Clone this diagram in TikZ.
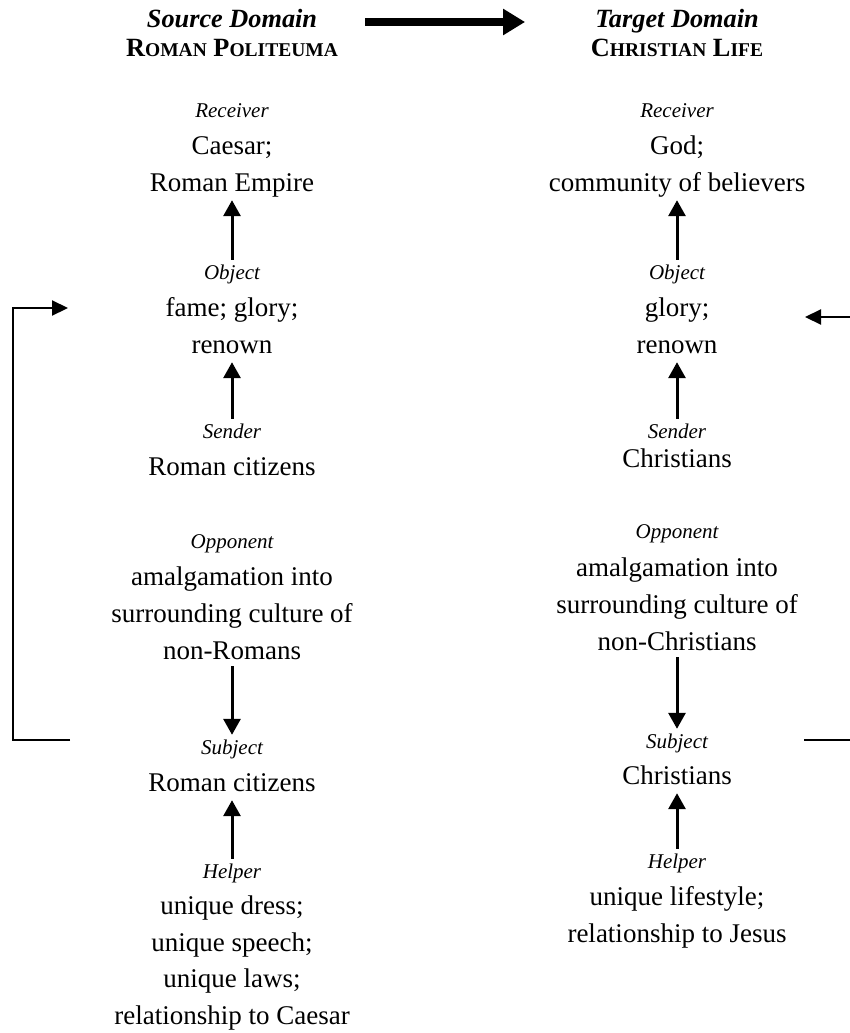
\documentclass[tikz,border=0pt]{standalone}
\usepackage{fontspec}
\setmainfont{Liberation Serif}
\usetikzlibrary{arrows.meta}

% bold text with the lower letters set smaller, as small capitals
\newcommand{\fakesc}[1]{{\fontsize{19.5}{20}\selectfont #1}}

\tikzset{
  hd/.style={font=\fontsize{26.3}{26}\selectfont\bfseries\itshape, anchor=base, inner sep=0pt, text height=18pt, text depth=6pt},
  hdsc/.style={font=\fontsize{26.3}{26}\selectfont\bfseries, anchor=base, inner sep=0pt, text height=18pt, text depth=6pt},
  lab/.style={font=\fontsize{21}{21}\selectfont\itshape, anchor=base, inner sep=0pt, text height=14pt, text depth=4.5pt},
  txt/.style={font=\fontsize{27}{27}\selectfont, anchor=base, inner sep=0pt, text height=18.5pt, text depth=6pt},
  colarrow/.style={line width=3pt, -{Triangle[length=16pt,width=17pt]}},
  fbline/.style={line width=2.2pt},
  fbarrow/.style={fbline, -{Triangle[length=16pt,width=15pt]}},
  maparrow/.style={line width=8pt, -{Triangle[length=22pt,width=25pt]}}
}

\begin{document}
\begin{tikzpicture}[x=1pt, y=-1pt]
\useasboundingbox (0,0) rectangle (850,1033);
\clip (0,0) rectangle (850,1033);

% ---------- headings ----------
\node[hd]   (srcT) at (232,28) {Source Domain};
\node[hdsc] (srcN) at (232,57) {R\fakesc{OMAN} P\fakesc{OLITEUMA}};
\node[hd]   (tgtT) at (677,28) {Target Domain};
\node[hdsc] (tgtN) at (677,57) {C\fakesc{HRISTIAN} L\fakesc{IFE}};
\draw[maparrow] ([xshift=48pt]srcT.east) -- ([xshift=-70pt]srcT.east -| tgtT.west);

% ---------- source domain column ----------
\node[lab] (lrecL) at (232,117) {Receiver};
\node[txt] (lrec1) at (232,154) {Caesar;};
\node[txt] (lrec2) at (232,191) {Roman Empire};

\node[lab] (lobjL) at (232,279) {Object};
\node[txt] (lobj1) at (232,316) {fame; glory;};
\node[txt] (lobj2) at (232,353) {renown};

\node[lab] (lsenL) at (232,438) {Sender};
\node[txt] (lsen1) at (232,475) {Roman citizens};

\node[lab] (loppL) at (232,548) {Opponent};
\node[txt] (lopp1) at (232,585) {amalgamation into};
\node[txt] (lopp2) at (232,622) {surrounding culture of};
\node[txt] (lopp3) at (232,659) {non-Romans};

\node[lab] (lsubL) at (232,754) {Subject};
\node[txt] (lsub1) at (232,791) {Roman citizens};

\node[lab] (lhelL) at (232,878) {Helper};
\node[txt] (lhel1) at (232,914.5) {unique dress;};
\node[txt] (lhel2) at (232,951) {unique speech;};
\node[txt] (lhel3) at (232,987.5) {unique laws;};
\node[txt] (lhel4) at (232,1024) {relationship to Caesar};

\draw[colarrow] ([yshift=5pt]lobjL.north) -- ([yshift=-3pt]lrec2.south);
\draw[colarrow] ([yshift=5pt]lsenL.north) -- ([yshift=-3pt]lobj2.south);
\draw[colarrow] ([yshift=-1pt]lopp3.south) -- ([yshift=5pt]lsubL.north);
\draw[colarrow] ([yshift=5pt]lhelL.north) -- ([yshift=-3pt]lsub1.south);

% ---------- target domain column ----------
\node[lab] (rrecL) at (677,117) {Receiver};
\node[txt] (rrec1) at (677,154) {God;};
\node[txt] (rrec2) at (677,191) {community of believers};

\node[lab] (robjL) at (677,279) {Object};
\node[txt] (robj1) at (677,316) {glory;};
\node[txt] (robj2) at (677,353) {renown};

\node[lab] (rsenL) at (677,438) {Sender};
\node[txt] (rsen1) at (677,467) {Christians};

\node[lab] (roppL) at (677,538) {Opponent};
\node[txt] (ropp1) at (677,576) {amalgamation into};
\node[txt] (ropp2) at (677,613) {surrounding culture of};
\node[txt] (ropp3) at (677,650) {non-Christians};

\node[lab] (rsubL) at (677,748) {Subject};
\node[txt] (rsub1) at (677,784) {Christians};

\node[lab] (rhelL) at (677,868) {Helper};
\node[txt] (rhel1) at (677,905) {unique lifestyle;};
\node[txt] (rhel2) at (677,942) {relationship to Jesus};

\draw[colarrow] ([yshift=5pt]robjL.north) -- ([yshift=-3pt]rrec2.south);
\draw[colarrow] ([yshift=5pt]rsenL.north) -- ([yshift=-3pt]robj2.south);
\draw[colarrow] ([yshift=-1pt]ropp3.south) -- ([yshift=5pt]rsubL.north);
\draw[colarrow] ([yshift=5pt]rhelL.north) -- ([yshift=-3pt]rsub1.south);

% ---------- feedback loops from subject to object ----------
\coordinate (lfbS) at (70,740);
\coordinate (lfbT) at (68,308);
\draw[fbarrow] (lfbS) -- (13,740) |- (lfbT);

\coordinate (rfbS) at (804,740);
\coordinate (rfbT) at (805,317);
\draw[fbarrow] (rfbS) -- (856,740) |- (rfbT);
\end{tikzpicture}
\end{document}
